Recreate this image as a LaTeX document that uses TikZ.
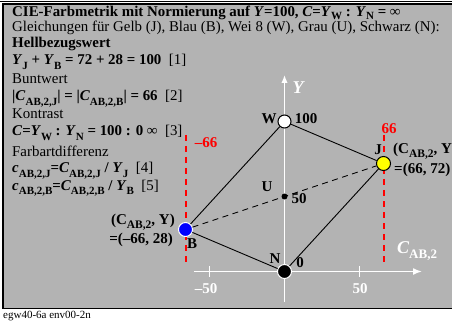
\documentclass[tikz,border=0pt]{standalone}
\usepackage{fontspec}
\setmainfont{Liberation Serif}
\usetikzlibrary{arrows.meta}
\definecolor{bg}{RGB}{179,179,179}
\definecolor{ared}{RGB}{255,0,0}
\definecolor{ayel}{RGB}{255,255,0}
\definecolor{ablue}{RGB}{0,0,255}
\newcommand{\sbs}[1]{\raisebox{-0.28em}{\fontsize{11}{12}\selectfont\bfseries #1}}
\newcommand{\tsbs}[1]{\raisebox{-0.18em}{\fontsize{11}{12}\selectfont\bfseries #1}}
\newcommand{\gsbs}[1]{\raisebox{-0.28em}{\fontsize{11.5}{12}\selectfont\bfseries #1}}
\newcommand{\bi}[1]{\textbf{\textit{#1}}}
\begin{document}
\begin{tikzpicture}[x=1pt,y=-1pt,
  txt/.style={anchor=base west, inner sep=0pt, font=\fontsize{14.9}{17}\selectfont},
  lbl/.style={inner sep=0pt, font=\fontsize{15}{17}\selectfont\bfseries},
  wlbl/.style={lbl, text=white},
  rlbl/.style={lbl, text=ared},
  axis/.style={white, line width=1.5pt},
  tick/.style={white, line width=1.3pt},
  redline/.style={ared, line width=2pt, dash pattern=on 6pt off 5pt},
  conn/.style={black, line width=0.9pt},
  dconn/.style={black, line width=0.9pt, dash pattern=on 6pt off 4.5pt},
  pt/.style={circle, inner sep=0pt, line width=1pt}]
\useasboundingbox (0,0) rectangle (452,323);
% frame
\fill[black] (0,0.6) rectangle (452,2.2);
\filldraw[fill=bg, draw=black, line width=1.5pt] (3.2,4) rectangle (470,308.3);
% text block
\node[txt] (t1) at (12,16.5) {\textbf{CIE-Farbmetrik mit Normierung auf \textit{Y}=100, \textit{C}=\textit{Y}\tsbs{W} : \textit{Y}\tsbs{N} = ∞}};
\node[txt] (t2) at (12,32) {Gleichungen für Gelb (J), Blau (B), Wei 8 (W), Grau (U), Schwarz (N):};
\node[txt] (t3) at (12,48) {\textbf{Hellbezugswert}};
\node[txt] (t4) at (12,65) {\bi{Y}\sbs{J} \textbf{+} \bi{Y}\sbs{B} \textbf{= 72 + 28 = 100}\ \ [1]};
\node[txt] (t5) at (12,84) {Buntwert};
\node[txt] (t6) at (12,101) {\textbf{|}\bi{C}\sbs{AB,2,J}\textbf{| = |}\bi{C}\sbs{AB,2,B}\textbf{| = 66}\ \ [2]};
\node[txt] (t7) at (12,119) {Kontrast};
\node[txt] (t8) at (12,136) {\bi{C}\textbf{=}\bi{Y}\sbs{W} \textbf{:} \bi{Y}\sbs{N} \textbf{= 100 : 0 ∞}\ \ [3]};
\node[txt] (t9) at (12,157) {Farbartdifferenz};
\node[txt] (t10) at (12,173) {\bi{c}\sbs{AB,2,J}\textbf{=}\bi{C}\sbs{AB,2,J} \textbf{/} \bi{Y}\sbs{J}\ \ [4]};
\node[txt] (t11) at (12,190) {\bi{c}\sbs{AB,2,B}\textbf{=}\bi{C}\sbs{AB,2,B} \textbf{/} \bi{Y}\sbs{B}\ \ [5]};
% axes
\coordinate (yb) at (284.5,302);
\coordinate (yt) at (284.5,75);
\coordinate (xl) at (194,271.5);
\coordinate (xr) at (422,271.5);
\draw[axis, -{Latex[length=8pt,width=6.5pt]}] (yb) -- (yt);
\draw[axis, -{Latex[length=9pt,width=7pt]}] (xl) -- (xr);
\coordinate (t50a) at (209.5,266);
\coordinate (t50b) at (209.5,277);
\coordinate (t50c) at (359.5,266);
\coordinate (t50d) at (359.5,277);
\draw[tick] (t50a) -- (t50b);
\draw[tick] (t50c) -- (t50d);
\node[wlbl] (m50) at (206,289) {–50};
\node[wlbl] (p50) at (360,289) {50};
\node[wlbl, font=\fontsize{18}{20}\selectfont\bfseries\itshape] (ylab) at (298,88) {Y};
\node[wlbl, anchor=west, font=\fontsize{18}{20}\selectfont\bfseries\itshape] (xlab) at (397,251) {C\raisebox{-0.28em}{\fontsize{13}{14}\selectfont\bfseries\upshape AB,2}};
% red dashed lines
\coordinate (rl1) at (185.5,135);
\coordinate (rl2) at (185.5,263);
\coordinate (rr1) at (383.5,135);
\coordinate (rr2) at (383.5,263);
\draw[redline] (rl1) -- (rl2);
\draw[redline] (rr1) -- (rr2);
\node[rlbl] (rm66) at (206,143) {–66};
\node[rlbl] (rp66) at (389,129) {66};
% points
\node[pt, fill=white, draw=black, minimum size=13pt] (W) at (284.5,121.5) {};
\node[pt, fill=black, draw=white, minimum size=14pt] (N) at (284.5,271.5) {};
\node[pt, fill=black, minimum size=6pt] (U) at (284.5,196.5) {};
\node[pt, fill=ayel, draw=black, minimum size=14pt] (J) at (383.5,163.5) {};
\node[pt, fill=ablue, draw=white, minimum size=14pt] (B) at (185.5,229.5) {};
% connectors
\draw[conn] (W) -- (J);
\draw[conn] (J) -- (N);
\draw[conn] (N) -- (B);
\draw[conn] (B) -- (W);
\draw[dconn] (B) -- (J);
% point labels
\node[lbl] (Wl) at (269,119) {W};
\node[lbl] (Wv) at (306,119) {100};
\node[lbl] (Ul) at (267,187) {U};
\node[lbl] (Uv) at (299,199) {50};
\node[lbl] (Jl) at (378,150) {J};
\node[lbl, anchor=west] (Jc) at (393,151) {(C\gsbs{AB,2}, Y)};
\node[lbl, anchor=west] (Jv) at (394,170) {=(66, 72)};
\node[lbl] (Nl) at (275,259) {N};
\node[lbl] (Nv) at (300,263) {0};
\node[lbl] (Bl) at (192,244) {B};
\node[lbl, anchor=east] (Bc) at (175,222) {(C\gsbs{AB,2}, Y)};
\node[lbl, anchor=east] (Bv) at (173,240) {=(–66, 28)};
% footer
\node[anchor=base west, inner sep=0pt, font=\fontsize{11}{12}\selectfont] (foot) at (3,318.5) {egw40-6a env00-2n};
\end{tikzpicture}
\end{document}
